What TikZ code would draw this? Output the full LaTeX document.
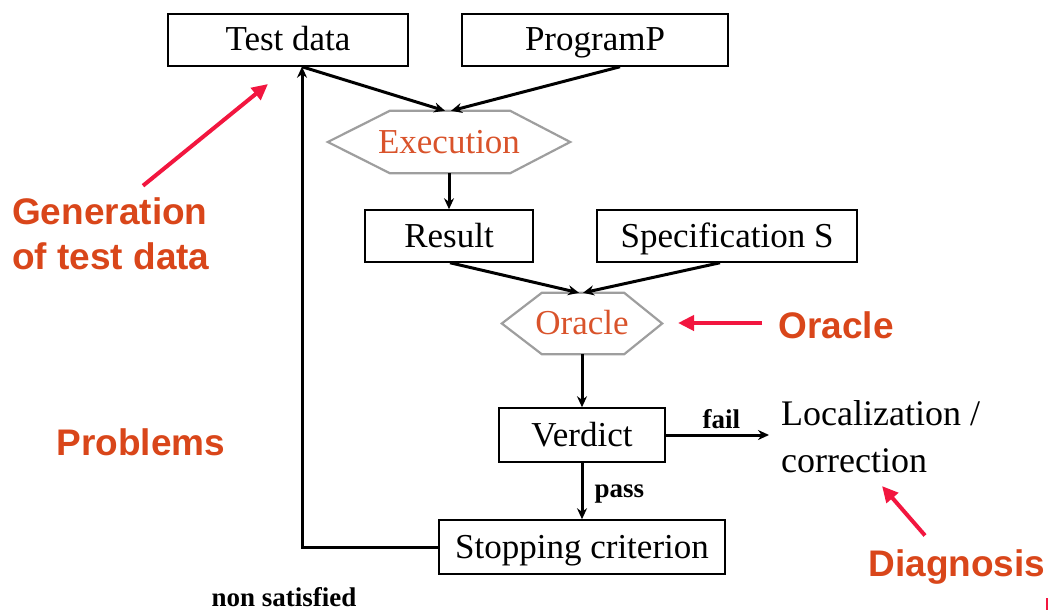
\documentclass[tikz,border=0pt]{standalone}
\usepackage{fontspec}
\setmainfont{Liberation Serif}
\newfontfamily\labelfont{Liberation Sans}
\usetikzlibrary{arrows.meta,calc}

\definecolor{hexorange}{HTML}{D9532B}
\definecolor{noteorange}{HTML}{D9461A}
\definecolor{pointred}{HTML}{F2163F}
\definecolor{hexgray}{HTML}{9E9E9E}

\tikzset{
  box/.style={draw=black, line width=1.5pt, rectangle, inner sep=0pt,
    text height=30pt, text depth=8pt, font=\fontsize{35}{40}\selectfont},
  hexbox/.style={draw=none, rectangle, inner sep=0pt, text=hexorange,
    text height=30pt, text depth=8pt, font=\fontsize{35}{40}\selectfont},
  hexline/.style={draw=hexgray, line width=2.2pt, line join=miter},
  flow/.style={line width=3pt, -{Stealth[length=11pt,width=10pt]}},
  note/.style={text=noteorange, font=\labelfont\bfseries\fontsize{37}{45}\selectfont,
    inner sep=0pt},
  pointer/.style={draw=pointred, line width=4pt, -{Triangle[length=16pt,width=15pt]}},
  tag/.style={font=\bfseries\fontsize{27}{30}\selectfont, inner sep=0pt},
  plaintext/.style={font=\fontsize{36}{47}\selectfont, inner sep=0pt, align=left}
}

\begin{document}
\begin{tikzpicture}[x=1pt,y=-1pt]
  \useasboundingbox (0,0) rectangle (1051,610);

  % top row
  \node[box, minimum width=240pt, minimum height=52pt] (td) at (288,40) {Test data};
  \node[box, minimum width=266pt, minimum height=52pt] (prog) at (595,40) {ProgramP};

  % execution hexagon
  \node[hexbox, minimum width=242pt, minimum height=62pt] (exec) at (449,142) {Execution};
  \draw[hexline] (exec.west) -- ($(exec.north west)+(62,0)$) -- ($(exec.north east)+(-60,0)$)
    -- (exec.east) -- ($(exec.south east)+(-60,0)$) -- ($(exec.south west)+(62,0)$) -- cycle;

  % second row
  \node[box, minimum width=168pt, minimum height=52pt] (res) at (449,236) {Result};
  \node[box, minimum width=260pt, minimum height=52pt] (spec) at (727,236) {Specification S};

  % oracle hexagon
  \node[hexbox, minimum width=160pt, minimum height=61pt] (orc) at (582,323.5) {Oracle};
  \draw[hexline] (orc.west) -- ($(orc.north west)+(40,0)$) -- ($(orc.north east)+(-38,0)$)
    -- (orc.east) -- ($(orc.south east)+(-38,0)$) -- ($(orc.south west)+(40,0)$) -- cycle;

  % verdict and stopping criterion
  \node[box, minimum width=166pt, minimum height=54pt] (ver) at (582,435) {Verdict};
  \node[box, minimum width=286pt, minimum height=54pt] (stop) at (582,547) {Stopping criterion};

  % diagnosis target
  \node[plaintext, anchor=west] (loc) at (781,437) {Localization /\\correction};

  % flow connectors
  \coordinate (tdout) at ($(td.south)+(14,0)$);
  \coordinate (progout) at ($(prog.south)+(25,0)$);
  \draw[flow] (tdout) -- ($(exec.north)+(-4,0)$);
  \draw[flow] (progout) -- ($(exec.north)+(2,0)$);
  \draw[flow] (exec.south) -- (res.north);
  \draw[flow] ($(res.south)+(1,0)$) -- ($(orc.north)+(-3,0)$);
  \draw[flow] ($(spec.south)+(-7,0)$) -- ($(orc.north)+(1,0)$);
  \draw[flow] (orc.south) -- (ver.north);
  \draw[flow] (ver.south) -- node[tag, anchor=west, xshift=11pt, yshift=-3pt] (pass) {pass} (stop.north);
  \draw[flow, shorten >=12pt] (ver.east) -- node[tag, above, yshift=5pt, xshift=-2pt] (fail) {fail} (ver.east -| loc.west);
  \draw[flow] (stop.west) -| (tdout);

  % loop label
  \node[tag, anchor=base] (nonsat) at (284,606) {non satisfied};

  % problem annotations
  \node[note, align=left, anchor=west] (gen) at (12,234) {Generation\\of test data};
  \node[note] (prob) at (141,442) {Problems};
  \node[note] (orlabel) at (836,325) {Oracle};
  \node[note] (diag) at (957,567) {Diagnosis};

  \coordinate (genhead) at (268,84);
  \coordinate (orchead) at (678,323);
  \coordinate (diaghead) at (882,486);
  \draw[pointer] ($(gen.north west)+(131,-12)$) -- (genhead);
  \draw[pointer] ($(orlabel.west)+(-16,-2)$) -- (orchead);
  \draw[pointer] ($(diag.north)+(-32,-14)$) -- (diaghead);

  % small red mark at the lower right edge
  \draw[draw=pointred, line width=1.5pt] (1047,598) -- (1047,610);
\end{tikzpicture}
\end{document}
